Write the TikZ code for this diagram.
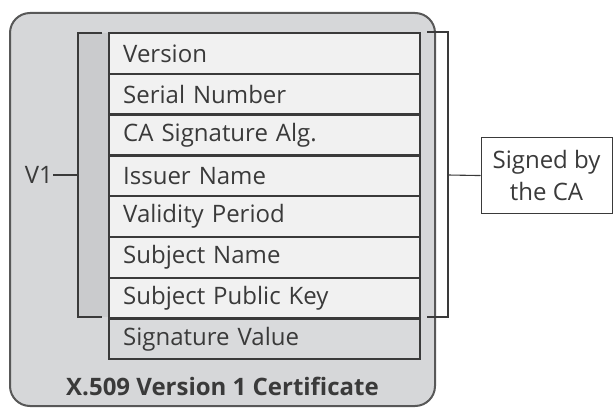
\documentclass[tikz,border=0pt]{standalone}
\usepackage{fontspec}
\setmainfont{Open Sans}
\definecolor{outerbg}{HTML}{D6D7D9}
\definecolor{stripbg}{HTML}{CACBCD}
\definecolor{rowbg}{HTML}{F1F1F1}
\definecolor{sigbg}{HTML}{D9DADC}
\definecolor{ink}{HTML}{3A3A3A}
\begin{document}
\begin{tikzpicture}[x=1pt,y=-1pt,
  field/.style={draw=ink, line width=2.4pt, fill=rowbg, minimum width=311pt, minimum height=40.75pt,
    inner sep=0pt, anchor=north west, text width=283pt, align=left, font=\fontsize{24}{28}\selectfont, text=ink},
  sigfield/.style={field, fill=sigbg},
  thin/.style={draw=ink, line width=1.1pt},
  lbl/.style={font=\fontsize{24}{28}\selectfont, text=ink, inner sep=0pt}]
\useasboundingbox (0,0) rectangle (613,409);
\fill[white] (0,0) rectangle (613,409);
% outer certificate
\draw[draw=ink!85, line width=2pt, fill=outerbg, rounded corners=20pt] (10,13) rectangle (435,406);
\fill[stripbg] (78,33) rectangle (108,317);
% fields
\node[field] (f1) at (108,32) {Version};
\node[field] (f2) at (108,72.75) {Serial Number};
\node[field] (f3) at (108,113.5) {CA Signature Alg.};
\node[field] (f4) at (108,154.25) {Issuer Name};
\node[field] (f5) at (108,195) {Validity Period};
\node[field] (f6) at (108,235.75) {Subject Name};
\node[field] (f7) at (108,276.5) {Subject Public Key};
\node[sigfield] (f8) at (108,317.25) {Signature Value};
% bottom label
\node[lbl, font=\fontsize{24}{28}\selectfont\bfseries] (title) at (222.5,386) {X.509 Version 1 Certificate};
% left bracket
\coordinate (lt) at (102,33);
\coordinate (lb) at (102,317);
\draw[thin] (lt) -- (78,33) -- (78,317) -- (lb);
\node[lbl, anchor=east] (v1) at (53,175) {V1};
\coordinate (lm) at (78,175);
\draw[thin] (v1.east) -- (lm);
% right bracket
\node[draw=ink, line width=1.1pt, fill=white, minimum width=131pt, minimum height=76pt, inner sep=0pt,
  align=center, font=\fontsize{24}{32}\selectfont, text=ink, anchor=north west] (ca) at (480.5,137) {Signed by\\the CA};
\coordinate (rt) at (427,32);
\coordinate (rb) at (427,317);
\draw[thin] (rt) -- (448,32) -- (448,317) -- (rb);
\draw[thin] (448,175) -- (ca.west);
\end{tikzpicture}
\end{document}
